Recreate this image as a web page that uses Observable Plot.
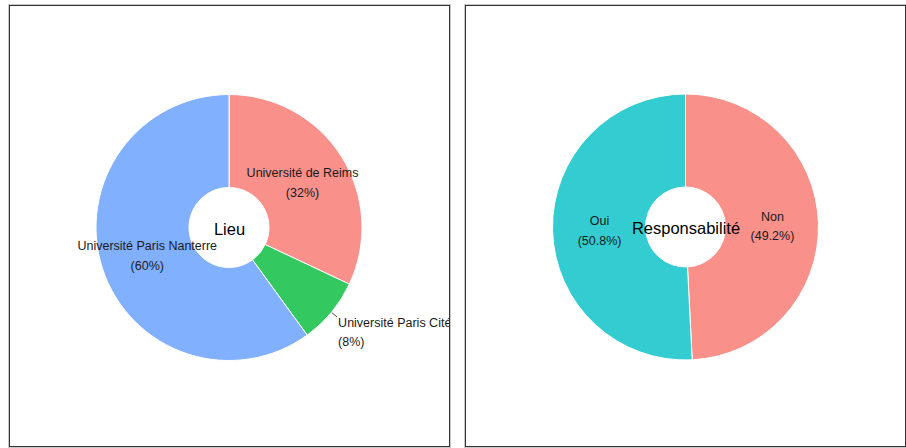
<!DOCTYPE html>
<html>
<head>
<meta charset="utf-8">
<script src="https://cdn.jsdelivr.net/npm/d3@7"></script>
<script src="https://cdn.jsdelivr.net/npm/@observablehq/plot@0.6"></script>
<style>
  html, body { margin: 0; padding: 0; background: #fff; width: 906px; height: 448px; overflow: hidden; }
  .panel { position: absolute; top: 5px; width: 439px; height: 440px; border: 1px solid #333; box-shadow: 0 0 0 1px #c8c8c8; overflow: hidden; background: #fff; }
  .panel svg { display: block; }
</style>
</head>
<body>
<div id="p1" class="panel" style="left:9px"></div>
<div id="p2" class="panel" style="left:465px"></div>
<script>
// ---- Data ----
const lieuTitle = "Lieu";
const lieuCategories = ["Université de Reims", "Université Paris Cité", "Université Paris Nanterre"];
const lieuValues = [32, 8, 60];
const lieuColors = ["#F9918A", "#33C860", "#81B0FF"];

const respTitle = "Responsabilité";
const respCategories = ["Non", "Oui"];
const respValues = [49.2, 50.8];
const respColors = ["#F9918A", "#33CCD0"];

// ---- Layout constants ----
const W = 439, H = 440;
const R = 133;           // outer radius in px
const innerFrac = 40 / 133;
const labelFrac = (1 + innerFrac) / 2;
const FONT = "'Liberation Sans', Arial, sans-serif";

function donut(el, title, categories, values, colors, cx, cy) {
  const total = d3.sum(values);
  const pie = d3.pie().sort(null).value(d => d.value);
  const rows = categories.map((c, i) => ({category: c, value: values[i]}));
  const arcs = pie(rows).map(a => {
    const mid = (a.startAngle + a.endAngle) / 2;
    const share = a.data.value / total;
    return {
      category: a.data.category,
      value: a.data.value,
      startAngle: a.startAngle,
      endAngle: a.endAngle,
      mid,
      share,
      label: `${a.data.category}\n(${a.data.value}%)`,
      outside: share < 0.1
    };
  });
  const pol = (r, ang) => [r * Math.sin(ang), r * Math.cos(ang)];
  const inside = arcs.filter(d => !d.outside).map(d => {
    const [x, y] = pol(labelFrac, d.mid); return {...d, x, y};
  });
  const outside = arcs.filter(d => d.outside).map(d => {
    const [x1, y1] = pol(1.0, d.mid);
    const [x2, y2] = pol(1.05, d.mid);
    return {...d, x1, y1, x2, y2};
  });

  const slices = (index, scales) => {
    const x0 = scales.x(0), y0 = scales.y(0);
    const rpx = scales.x(1) - scales.x(0);
    const arcGen = d3.arc().innerRadius(rpx * innerFrac).outerRadius(rpx);
    const g = d3.create("svg:g").attr("transform", `translate(${x0},${y0})`);
    g.selectAll("path").data(arcs).join("path")
      .attr("d", d => arcGen(d))
      .attr("fill", d => scales.color(d.category))
      .attr("stroke", "white")
      .attr("stroke-width", 1);
    return g.node();
  };

  const chart = Plot.plot({
    width: W, height: H, margin: 0,
    style: {fontFamily: FONT, background: "white", overflow: "visible"},
    x: {domain: [-cx / R, (W - cx) / R], axis: null},
    y: {domain: [-(H - cy) / R, cy / R], axis: null},
    color: {domain: categories, range: colors},
    marks: [
      slices,
      Plot.link(outside, {x1: "x1", y1: "y1", x2: "x2", y2: "y2", stroke: "#333", strokeWidth: 0.9}),
      Plot.text(inside, {x: "x", y: "y", text: "label", fontSize: 12.5, lineHeight: 1.55, fill: "#1a1a1a", textAnchor: "middle", dy: -1}),
      Plot.text(outside, {x: "x2", y: "y2", text: "label", fontSize: 12.5, lineHeight: 1.55, fill: "#1a1a1a", textAnchor: "start", lineAnchor: "top", dx: 1, dy: -4}),
      Plot.text([title], {x: () => 0, y: () => 0, text: d => d, fontSize: 16.5, fill: "#000", textAnchor: "middle", dy: 1.5})
    ]
  });
  el.appendChild(chart);
}

donut(document.getElementById("p1"), lieuTitle, lieuCategories, lieuValues, lieuColors, 219, 221.5);
donut(document.getElementById("p2"), respTitle, respCategories, respValues, respColors, 219.5, 221);
</script>
</body>
</html>
